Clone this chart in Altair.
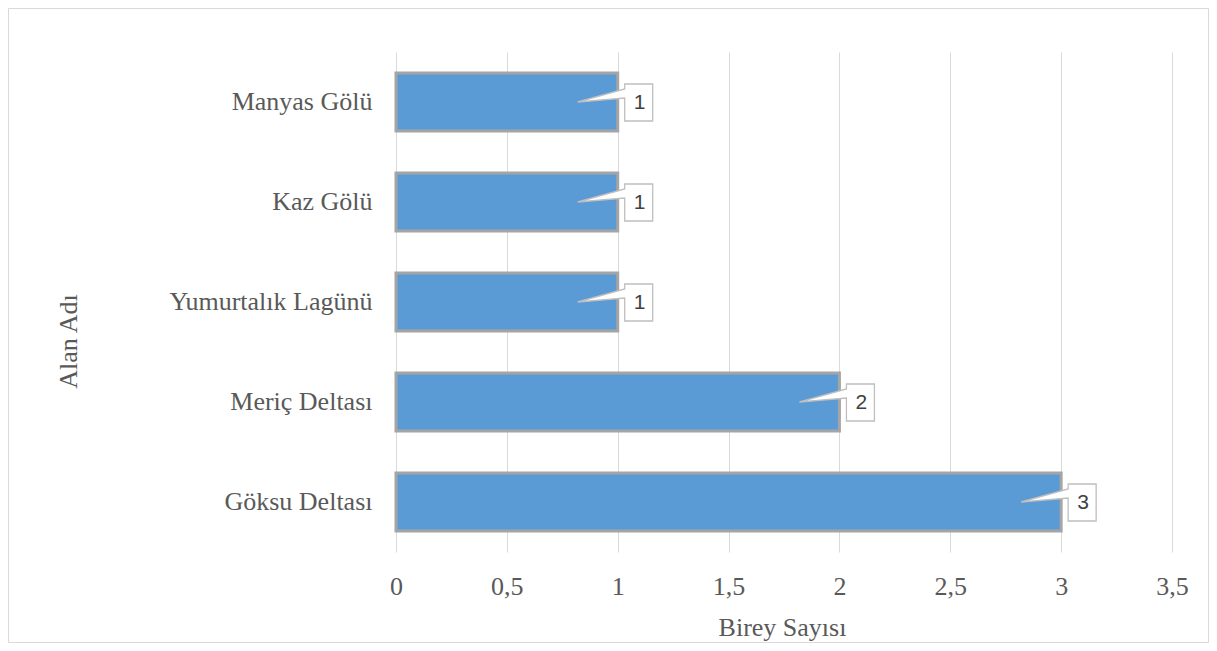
import altair as alt
import pandas as pd

categories = ["Manyas Gölü", "Kaz Gölü", "Yumurtalık Lagünü", "Meriç Deltası", "Göksu Deltası"]
values = [1, 1, 1, 2, 3]
x_ticks = [0, 0.5, 1, 1.5, 2, 2.5, 3, 3.5]

df = pd.DataFrame({"Alan": categories, "Birey": values})

W, H = 776, 500
PL, PT = 388, 44
TOTAL_W, TOTAL_H = 1201, 635
FS = 26

callout = "M -0.8 0 L 0.14 -0.26 L 0.14 -0.36 L 0.70 -0.36 L 0.70 0.38 L 0.14 0.38 L 0.14 -0.08 Z"

y_enc = alt.Y("Alan:N", sort=categories,
              scale=alt.Scale(paddingInner=0.42, paddingOuter=0.21),
              axis=alt.Axis(title="Alan Adı", labelFont="Liberation Serif", labelFontSize=FS,
                            labelColor="#595959", labelPadding=24, ticks=False, domain=False,
                            labelLimit=400,
                            titleFont="Liberation Serif", titleFontSize=FS, titleColor="#595959",
                            titleFontWeight="normal", titleAngle=-90, titleX=-328, titleY=289,
                            titleBaseline="middle", titleAlign="center", grid=False))

x_enc = alt.X("Birey:Q", scale=alt.Scale(domain=[0, 3.5], nice=False),
              axis=alt.Axis(title="Birey Sayısı", values=x_ticks,
                            labelExpr="replace(toString(datum.value), '.', ',')",
                            labelFont="Liberation Serif", labelFontSize=FS, labelColor="#595959",
                            labelPadding=34, labelBaseline="middle", labelFlush=False,
                            ticks=False, domain=False,
                            grid=True, gridColor="#d9d9d9", gridWidth=1,
                            titleFont="Liberation Serif", titleFontSize=FS, titleColor="#595959",
                            titleFontWeight="normal", titleX=386, titleY=75, titleBaseline="middle"))

base = alt.Chart(df)

bars = base.mark_bar(color="#5b9bd5", stroke="#a5a5a5", strokeWidth=3).encode(x=x_enc, y=y_enc)

boxes = base.mark_point(shape=callout, size=10000, filled=True, fill="white",
                        stroke="#bfbfbf", strokeWidth=1.3, opacity=1).encode(
    x="Birey:Q", y=alt.Y("Alan:N", sort=categories))

labels = base.mark_text(dx=22, dy=1, font="Liberation Sans", fontSize=21, color="#404040",
                        baseline="middle", align="center").encode(
    x="Birey:Q", y=alt.Y("Alan:N", sort=categories), text="Birey:Q")

frame = alt.Chart(pd.DataFrame({"a": [0]})).mark_rect(fill=None, stroke="#d9d9d9", strokeWidth=1).encode(
    x=alt.value(-PL + 0.5), x2=alt.value(TOTAL_W - PL - 0.5),
    y=alt.value(-PT + 0.5), y2=alt.value(TOTAL_H - PT - 0.5))

chart = alt.layer(frame, bars, boxes, labels).properties(
    width=W, height=H,
    autosize=alt.AutoSizeParams(type="none"),
    padding={"left": PL, "top": PT, "right": TOTAL_W - PL - W, "bottom": TOTAL_H - PT - H},
    background="white",
).configure_view(stroke=None)

chart.save("out.html", embed_options={"renderer": "svg", "actions": False})
